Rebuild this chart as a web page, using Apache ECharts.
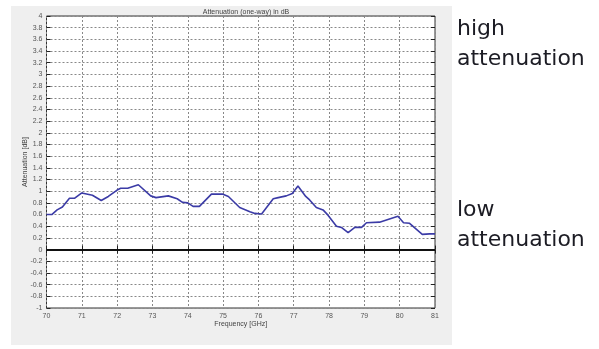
<!DOCTYPE html>
<html>
<head>
<meta charset="utf-8">
<script src="https://cdn.jsdelivr.net/npm/echarts@6/dist/echarts.min.js"></script>
<style>
  html, body { margin: 0; padding: 0; background: #ffffff; }
  #chart { width: 599px; height: 349px; }
</style>
</head>
<body>
<div id="chart"></div>
<script>
// One-way attenuation measured across the E-band sweep
const frequencyGHz = [
  70.0, 70.15, 70.3, 70.45, 70.65, 70.8, 71.0, 71.3, 71.55, 71.75,
  72.0, 72.1, 72.3, 72.6, 72.95, 73.1, 73.45, 73.7, 73.85, 74.0,
  74.15, 74.33, 74.67, 74.98, 75.15, 75.47, 75.76, 75.9, 76.09, 76.42,
  76.56, 76.79, 76.96, 77.12, 77.34, 77.45, 77.64, 77.83, 77.97, 78.21,
  78.35, 78.54, 78.73, 78.92, 79.06, 79.43, 79.95, 80.11, 80.28, 80.64,
  80.85, 81.0
];
const attenuationDb = [
  0.60, 0.60, 0.68, 0.73, 0.88, 0.88, 0.97, 0.93, 0.84, 0.91,
  1.02, 1.05, 1.05, 1.11, 0.92, 0.89, 0.92, 0.87, 0.81, 0.80,
  0.74, 0.74, 0.95, 0.95, 0.91, 0.72, 0.65, 0.62, 0.61, 0.87,
  0.89, 0.92, 0.96, 1.09, 0.91, 0.85, 0.72, 0.68, 0.59, 0.40,
  0.38, 0.29, 0.38, 0.38, 0.46, 0.47, 0.57, 0.46, 0.45, 0.26,
  0.27, 0.27
];

const xRange = { min: 70, max: 81, step: 1 };
const yRange = { min: -1, max: 4, step: 0.2 };

const titleText = 'Attenuation (one-way) in dB';
const xLabel = 'Frequency [GHz]';
const yLabel = 'Attenuation [dB]';
const noteHigh = ['high', 'attenuation'];
const noteLow = ['low', 'attenuation'];

const points = frequencyGHz.map((f, i) => [f, attenuationDb[i]]);

const tickFont = { fontFamily: 'Liberation Sans', fontSize: 7, color: '#555' };

const fmtY = v => String(Math.round(v * 10) / 10);

const baseAxisLine = { show: false };
const tickInside = { show: true, inside: true, length: 4, lineStyle: { color: '#222', width: 1 } };
const gridDots = { show: true, lineStyle: { color: '#888', type: [2, 2], width: 1 } };

const chart = echarts.init(document.getElementById('chart'), null, { renderer: 'canvas' });

chart.setOption({
  animation: false,
  backgroundColor: '#ffffff',
  graphic: [
    {
      type: 'rect', z: -10, silent: true,
      shape: { x: 11, y: 6, width: 441, height: 339 },
      style: { fill: '#efefef' }
    },
    {
      type: 'text', left: 457, top: 14,
      style: { text: noteHigh.join('\n'), font: '22px "DejaVu Sans"', lineHeight: 30, fill: '#1c1c24' }
    },
    {
      type: 'text', left: 457, top: 195,
      style: { text: noteLow.join('\n'), font: '22px "DejaVu Sans"', lineHeight: 30, fill: '#1c1c24' }
    }
  ],
  title: {
    text: titleText,
    left: 241, top: 4, textAlign: 'center',
    textStyle: { fontFamily: 'Liberation Sans', fontSize: 7, fontWeight: 'normal', color: '#444' }
  },
  grid: {
    left: 46.5, right: 164, top: 16, bottom: 41,
    show: true, backgroundColor: '#ffffff', borderColor: '#333', borderWidth: 1
  },
  xAxis: [
    {
      type: 'value', min: xRange.min, max: xRange.max, interval: xRange.step,
      axisLine: baseAxisLine, axisTick: tickInside,
      axisLabel: Object.assign({ margin: 5 }, tickFont),
      splitLine: gridDots,
      name: xLabel, nameLocation: 'middle', nameGap: 13, nameMoveOverlap: false,
      nameTextStyle: { fontFamily: 'Liberation Sans', fontSize: 7, color: '#444' }
    },
    {
      type: 'value', position: 'top', min: xRange.min, max: xRange.max, interval: xRange.step,
      axisLine: baseAxisLine, axisTick: tickInside, axisLabel: { show: false }, splitLine: { show: false }
    }
  ],
  yAxis: [
    {
      type: 'value', min: yRange.min, max: yRange.max, interval: yRange.step,
      axisLine: baseAxisLine, axisTick: tickInside,
      axisLabel: Object.assign({ margin: 4, formatter: fmtY }, tickFont),
      splitLine: gridDots,
      name: yLabel, nameLocation: 'middle', nameGap: 18, nameRotate: 90, nameMoveOverlap: false,
      nameTextStyle: { fontFamily: 'Liberation Sans', fontSize: 7, color: '#444' }
    },
    {
      type: 'value', position: 'right', min: yRange.min, max: yRange.max, interval: yRange.step,
      axisLine: baseAxisLine, axisTick: tickInside, axisLabel: { show: false }, splitLine: { show: false }
    }
  ],
  series: [
    {
      type: 'line',
      data: points,
      showSymbol: false,
      lineStyle: { color: '#3b3ba6', width: 1.6 },
      markLine: {
        silent: true, symbol: 'none', label: { show: false },
        lineStyle: { color: '#111', width: 2, type: 'solid' },
        data: [{ yAxis: 0 }]
      },
      z: 3
    }
  ]
});
</script>
</body>
</html>
